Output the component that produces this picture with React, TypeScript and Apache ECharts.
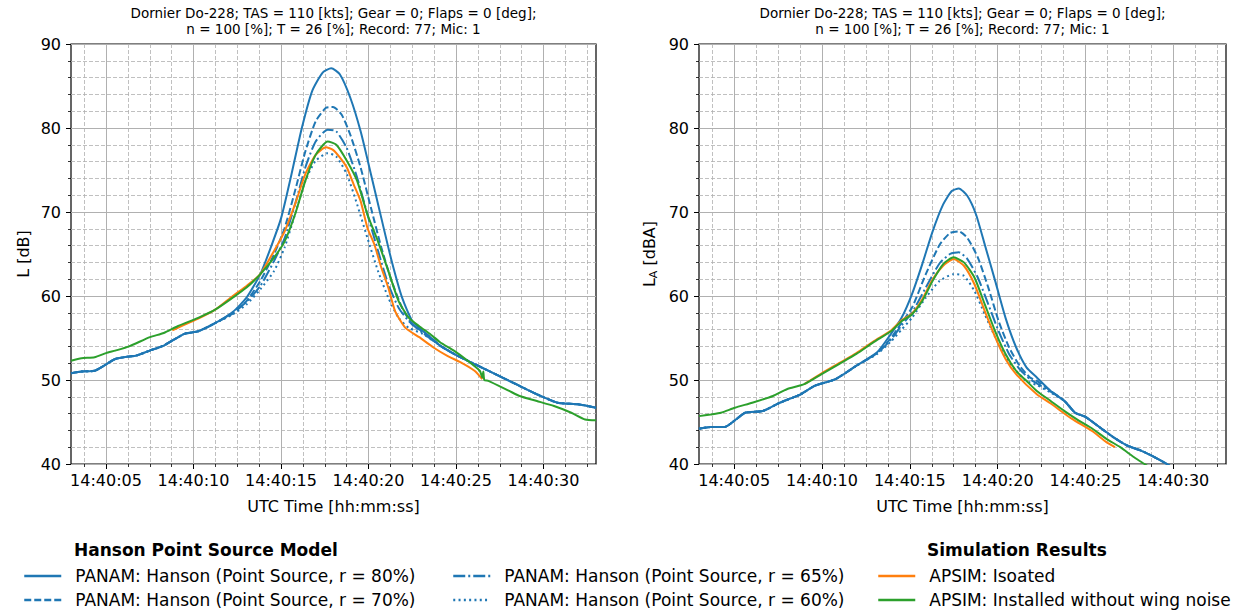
import React, { useEffect, useRef } from 'react';
import * as echarts from 'echarts';

const FONT = 'DejaVu Sans';

const majorTimes = [5, 10, 15, 20, 25, 30];
const timeLabels = ['14:40:05', '14:40:10', '14:40:15', '14:40:20', '14:40:25', '14:40:30'];
const minorTimes = [3.75, 6.25, 7.5, 8.75, 11.25, 12.5, 13.75, 16.25, 17.5, 18.75, 21.25, 22.5, 23.75, 26.25, 27.5, 28.75, 31.25, 32.5];

const seriesNames = [
  'PANAM: Hanson (Point Source, r = 80%)',
  'PANAM: Hanson (Point Source, r = 70%)',
  'PANAM: Hanson (Point Source, r = 65%)',
  'PANAM: Hanson (Point Source, r = 60%)',
  'APSIM: Isoated',
  'APSIM: Installed without wing noise',
];

// ---- Left panel: L [dB] ----
const leftR80 = [[3.0,50.8],[3.6,51.0],[4.35,51.1],[4.8,51.6],[5.53,52.5],[6.3,52.8],[6.72,52.9],[7.5,53.5],[8.3,54.1],[9.48,55.5],[10.27,55.8],[11.26,56.8],[12.24,58.1],[13.03,59.8],[13.82,62.6],[14.42,65.8],[15.01,69.3],[15.6,74.5],[16.19,80.0],[16.78,84.4],[17.38,86.6],[17.87,87.1],[18.36,86.4],[18.96,83.6],[19.55,79.6],[20.14,74.5],[20.73,69.3],[21.32,64.2],[21.92,59.8],[22.51,57.0],[23.3,55.5],[24.09,54.1],[25.07,52.9],[26.06,51.9],[27.25,50.7],[28.43,49.5],[29.62,48.3],[30.8,47.3],[31.98,47.1],[33.0,46.7]];
const leftR70 = [[3.0,50.8],[3.6,51.0],[4.35,51.1],[4.8,51.6],[5.53,52.5],[6.3,52.8],[6.72,52.9],[7.5,53.5],[8.3,54.1],[9.48,55.5],[10.27,55.8],[11.26,56.8],[12.24,57.9],[13.03,59.4],[13.82,61.8],[14.61,65.0],[15.21,68.1],[15.8,72.5],[16.39,77.2],[16.98,80.8],[17.57,82.4],[17.97,82.5],[18.46,81.6],[18.96,79.2],[19.55,75.3],[20.14,70.5],[20.73,65.8],[21.32,61.8],[21.92,58.6],[22.51,56.6],[23.3,55.5],[24.09,54.1],[25.07,52.9],[26.06,51.9],[27.25,50.7],[28.43,49.5],[29.62,48.3],[30.8,47.3],[31.98,47.1],[33.0,46.7]];
const leftR65 = [[3.0,50.8],[3.6,51.0],[4.35,51.1],[4.8,51.6],[5.53,52.5],[6.3,52.8],[6.72,52.9],[7.5,53.5],[8.3,54.1],[9.48,55.5],[10.27,55.8],[11.26,56.8],[12.24,58.0],[13.03,59.3],[13.82,61.2],[14.61,64.2],[15.21,66.9],[15.8,70.9],[16.39,75.3],[16.98,78.4],[17.67,79.8],[18.16,79.6],[18.76,77.6],[19.35,74.1],[19.94,69.7],[20.54,65.4],[21.13,61.4],[21.72,58.6],[22.31,57.0],[23.1,55.6],[24.09,54.1],[25.07,52.9],[26.06,51.9],[27.25,50.7],[28.43,49.5],[29.62,48.3],[30.8,47.3],[31.98,47.1],[33.0,46.7]];
const leftR60 = [[3.0,50.8],[3.6,51.0],[4.35,51.1],[4.8,51.6],[5.53,52.5],[6.3,52.8],[6.72,52.9],[7.5,53.5],[8.3,54.1],[9.48,55.5],[10.27,55.8],[11.26,56.8],[12.24,57.8],[13.03,59.0],[13.82,60.8],[14.61,63.0],[15.21,65.8],[15.8,69.7],[16.39,73.7],[16.98,76.1],[17.67,77.0],[18.16,76.6],[18.76,74.5],[19.35,70.9],[19.94,66.9],[20.54,63.0],[21.13,59.8],[21.72,57.4],[22.31,56.2],[23.1,55.5],[24.09,54.1],[25.07,52.9],[26.06,51.9],[27.25,50.7],[28.43,49.5],[29.62,48.3],[30.8,47.3],[31.98,47.1],[33.0,46.7]];
const leftIsolated = [[8.79,55.9],[9.5,56.6],[10.27,57.3],[11.26,58.4],[12.24,60.0],[13.03,61.2],[13.82,62.6],[14.61,65.4],[15.21,67.7],[15.8,70.9],[16.39,74.5],[16.98,76.8],[17.57,77.7],[17.97,77.4],[18.36,76.5],[18.76,75.3],[19.15,73.3],[19.55,71.3],[19.94,68.1],[20.34,66.1],[20.73,63.4],[21.13,61.0],[21.52,58.2],[22.11,56.2],[22.9,55.1],[23.69,53.9],[24.48,52.9],[25.27,52.1],[26.06,51.1],[26.5,50.1]];
const leftInstalled = [[3.0,52.3],[3.6,52.6],[4.35,52.7],[5.0,53.2],[5.53,53.5],[6.32,54.0],[7.51,55.1],[8.3,55.6],[9.09,56.4],[10.27,57.4],[11.26,58.4],[12.24,59.8],[13.03,61.0],[13.82,62.6],[14.61,64.6],[15.21,66.5],[15.8,69.7],[16.39,73.7],[16.98,76.8],[17.67,78.4],[18.16,78.0],[18.76,76.1],[19.35,73.7],[19.94,69.7],[20.54,66.5],[21.13,63.0],[21.72,59.4],[22.31,57.4],[22.9,56.4],[23.5,55.5],[24.09,54.5],[24.88,53.5],[25.67,52.3],[26.36,51.1],[26.5,50.3],[26.56,51.0],[26.62,50.0],[26.85,49.9],[28.04,48.7],[28.63,48.1],[29.62,47.5],[30.6,46.9],[31.59,46.1],[32.38,45.3],[33.0,45.2]];

// ---- Right panel: L_A [dBA] ----
const rightR80 = [[3.0,44.2],[3.66,44.4],[4.45,44.4],[5.04,45.2],[5.63,46.1],[6.62,46.3],[7.61,47.3],[8.79,48.3],[9.58,49.3],[10.77,50.1],[11.96,51.7],[13.14,53.3],[13.93,55.5],[14.53,57.4],[15.12,60.2],[15.71,63.8],[16.3,67.7],[16.9,70.9],[17.39,72.5],[17.79,72.8],[18.28,71.9],[18.77,69.7],[19.27,66.1],[19.86,61.8],[20.45,57.4],[21.05,53.9],[21.64,51.5],[22.23,50.3],[23.02,48.7],[23.81,47.5],[24.41,46.1],[25.0,45.6],[25.79,44.4],[26.58,43.2],[27.37,42.2],[28.16,41.6],[28.95,40.8],[29.64,40.0],[30.0,39.5]];
const rightR70 = [[3.0,44.2],[3.66,44.4],[4.45,44.4],[5.04,45.2],[5.63,46.1],[6.62,46.3],[7.61,47.3],[8.79,48.3],[9.58,49.3],[10.77,50.1],[11.96,51.7],[13.14,53.2],[13.93,55.0],[14.33,56.2],[15.12,58.6],[15.91,62.6],[16.7,66.1],[17.29,67.5],[17.79,67.7],[18.28,66.9],[18.87,64.6],[19.47,61.0],[20.06,57.0],[20.65,53.9],[21.25,51.7],[21.84,50.3],[22.23,49.9],[23.02,48.7],[23.81,47.5],[24.41,46.1],[25.0,45.6],[25.79,44.4],[26.58,43.2],[27.37,42.2],[28.16,41.6],[28.95,40.8],[29.64,40.0],[30.0,39.5]];
const rightR65 = [[3.0,44.2],[3.66,44.4],[4.45,44.4],[5.04,45.2],[5.63,46.1],[6.62,46.3],[7.61,47.3],[8.79,48.3],[9.58,49.3],[10.77,50.1],[11.96,51.7],[13.14,53.2],[13.93,54.8],[14.53,56.5],[15.12,58.0],[15.91,61.0],[16.7,63.9],[17.29,65.0],[17.79,65.2],[18.28,64.4],[18.87,62.2],[19.47,59.0],[20.06,55.8],[20.65,53.1],[21.25,51.3],[21.84,50.1],[22.23,49.6],[23.02,48.6],[23.81,47.5],[24.41,46.1],[25.0,45.6],[25.79,44.4],[26.58,43.2],[27.37,42.2],[28.16,41.6],[28.95,40.8],[29.64,40.0],[30.0,39.5]];
const rightR60 = [[3.0,44.2],[3.66,44.4],[4.45,44.4],[5.04,45.2],[5.63,46.1],[6.62,46.3],[7.61,47.3],[8.79,48.3],[9.58,49.3],[10.77,50.1],[11.96,51.7],[13.14,53.1],[13.93,54.6],[14.53,56.0],[15.12,57.4],[15.91,59.8],[16.7,61.8],[17.49,62.6],[18.08,62.4],[18.68,60.6],[19.27,57.8],[19.86,55.1],[20.45,52.7],[21.05,51.1],[21.64,49.9],[22.23,49.4],[23.02,48.5],[23.81,47.5],[24.41,46.1],[25.0,45.6],[25.79,44.4],[26.58,43.2],[27.37,42.2],[28.16,41.6],[28.95,40.8],[29.64,40.0],[30.0,39.5]];
const rightIsolated = [[8.99,49.5],[9.98,50.8],[10.97,52.0],[11.96,53.2],[12.94,54.6],[13.93,55.9],[14.53,57.1],[15.12,57.9],[15.71,59.6],[16.3,62.0],[16.9,63.6],[17.49,64.4],[18.08,63.6],[18.68,61.4],[19.27,58.2],[19.86,55.1],[20.45,52.5],[21.05,50.7],[22.23,48.3],[23.02,47.2],[24.21,45.4],[25.4,43.9],[26.19,42.6],[26.68,42.0]];
const rightInstalled = [[3.0,45.7],[3.66,45.9],[4.25,46.1],[5.04,46.7],[6.03,47.3],[7.21,48.1],[8.0,48.9],[8.99,49.5],[9.98,50.7],[10.97,51.9],[11.96,53.1],[12.94,54.5],[13.93,55.8],[14.53,57.0],[15.12,57.8],[15.71,59.4],[16.3,61.8],[16.9,63.8],[17.49,64.6],[18.08,64.0],[18.68,62.2],[19.27,59.0],[19.86,55.8],[20.45,53.1],[21.05,51.1],[21.64,49.9],[22.23,48.7],[23.02,47.5],[23.81,46.3],[24.6,45.2],[25.4,44.2],[26.19,43.0],[26.98,42.0],[27.77,40.8],[28.36,40.0],[28.8,39.4]];

const leftData = [leftR80, leftR70, leftR65, leftR60, leftIsolated, leftInstalled];
const rightData = [rightR80, rightR70, rightR65, rightR60, rightIsolated, rightInstalled];

const colors = ['#1f77b4', '#1f77b4', '#1f77b4', '#1f77b4', '#ff7f0e', '#2ca02c'];
const dashes: any[] = ['solid', [7, 3], [12, 3, 2, 3], [2, 3.3], 'solid', 'solid'];

const titleText = 'Dornier Do-228; TAS = 110 [kts]; Gear = 0; Flaps = 0 [deg];\nn = 100 [%]; T = 26 [%]; Record: 77; Mic: 1';

const grids = [
  { left: 71, top: 44, width: 525, height: 420 },
  { left: 699, top: 44, width: 527, height: 420 },
];

function buildOption() {
  const gridOpts = grids.map((g) => ({
    ...g,
    show: true,
    borderColor: '#000',
    borderWidth: 1.2,
    backgroundColor: 'transparent',
  }));

  const xAxes: any[] = [];
  const yAxes: any[] = [];
  grids.forEach((_, gi) => {
    xAxes.push({
      type: 'value', gridIndex: gi, min: 3, max: 33, position: 'bottom',
      axisLine: { show: false },
      axisTick: { show: true, customValues: majorTimes, length: 5, lineStyle: { color: '#000', width: 1 } },
      axisLabel: {
        customValues: majorTimes, color: '#000', fontSize: 16, fontFamily: FONT, margin: 8,
        formatter: (v: number) => { const i = majorTimes.indexOf(v); return i >= 0 ? timeLabels[i] : ''; },
      },
      splitLine: { show: true, lineStyle: { color: '#b0b0b0', width: 1 } },
      name: 'UTC Time [hh:mm:ss]', nameLocation: 'middle', nameGap: 34,
      nameTextStyle: { color: '#000', fontSize: 16, fontFamily: FONT },
    });
    xAxes.push({
      type: 'value', gridIndex: gi, min: 3, max: 33, position: 'top', offset: -420,
      axisLine: { show: false },
      axisTick: { show: true, inside: true, customValues: minorTimes, length: 3, lineStyle: { color: '#000', width: 0.8 } },
      axisLabel: { show: false },
      splitLine: { show: true, lineStyle: { color: '#b0b0b0', width: 0.8, type: [4, 2] } },
    });
    yAxes.push({
      type: 'value', gridIndex: gi, min: 40, max: 90, interval: 10,
      axisLine: { show: false },
      axisTick: { show: true, length: 5, lineStyle: { color: '#000', width: 1 } },
      minorTick: { show: true, splitNumber: 5, length: 3, lineStyle: { color: '#000', width: 0.8 } },
      splitLine: { show: true, lineStyle: { color: '#b0b0b0', width: 1 } },
      minorSplitLine: { show: true, lineStyle: { color: '#b0b0b0', width: 0.8, type: [4, 2] } },
      axisLabel: { color: '#000', fontSize: 16, fontFamily: FONT, margin: 10 },
      name: gi === 0 ? 'L [dB]' : '{m|L}{s|A}{m| [dBA]}',
      nameLocation: 'middle', nameGap: 40,
      nameTextStyle: {
        color: '#000', fontSize: 16, fontFamily: FONT,
        rich: {
          m: { fontSize: 16, fontFamily: FONT, color: '#000', lineHeight: 20 },
          s: { fontSize: 11, fontFamily: FONT, color: '#000', lineHeight: 20, verticalAlign: 'bottom', padding: [8, 0, 0, 0] },
        },
      },
    });
  });

  const series: any[] = [];
  [leftData, rightData].forEach((set, gi) => {
    set.forEach((d, si) => {
      series.push({
        type: 'line', name: seriesNames[si], data: d,
        xAxisIndex: gi * 2, yAxisIndex: gi,
        symbol: 'none', showSymbol: false, clip: true,
        smooth: 0.2,
        lineStyle: { color: colors[si], width: 2, type: dashes[si] },
        itemStyle: { color: colors[si] },
        z: 3 + si,
      });
    });
  });

  const legendBase = {
    orient: 'vertical', top: 562.5, itemWidth: 37, itemHeight: 2, itemGap: 7,
    selectedMode: false,
    itemStyle: { opacity: 0 },
    lineStyle: { width: 2.5 },
    textStyle: { color: '#000', fontSize: 17, fontFamily: FONT, padding: [0, 0, 0, 9] },
  };

  return {
    animation: false,
    backgroundColor: '#fff',
    grid: gridOpts,
    xAxis: xAxes,
    yAxis: yAxes,
    series,
    legend: [
      { ...legendBase, left: 18, data: [seriesNames[0], seriesNames[1]] },
      { ...legendBase, left: 447, data: [seriesNames[2], seriesNames[3]] },
      { ...legendBase, left: 872, data: [seriesNames[4], seriesNames[5]] },
    ],
    graphic: [
      { type: 'text', x: 333.5, y: 4.5, style: { text: titleText, align: 'center', fill: '#000', fontSize: 13.5, fontFamily: FONT, lineHeight: 16 } },
      { type: 'text', x: 962.5, y: 4.5, style: { text: titleText, align: 'center', fill: '#000', fontSize: 13.5, fontFamily: FONT, lineHeight: 16 } },
      { type: 'text', x: 74, y: 541.5, style: { text: 'Hanson Point Source Model', fill: '#000', fontSize: 17, fontWeight: 'bold', fontFamily: FONT } },
      { type: 'text', x: 927, y: 541.5, style: { text: 'Simulation Results', fill: '#000', fontSize: 17, fontWeight: 'bold', fontFamily: FONT } },
    ],
  };
}

export default function App() {
  const ref = useRef<HTMLDivElement>(null);
  useEffect(() => {
    const chart = echarts.init(ref.current!, null, { renderer: 'svg' });
    chart.setOption(buildOption() as any);
    return () => chart.dispose();
  }, []);
  return <div ref={ref} style={{ position: 'fixed', left: 0, top: 0, width: 1241, height: 615, background: '#fff' }} />;
}
